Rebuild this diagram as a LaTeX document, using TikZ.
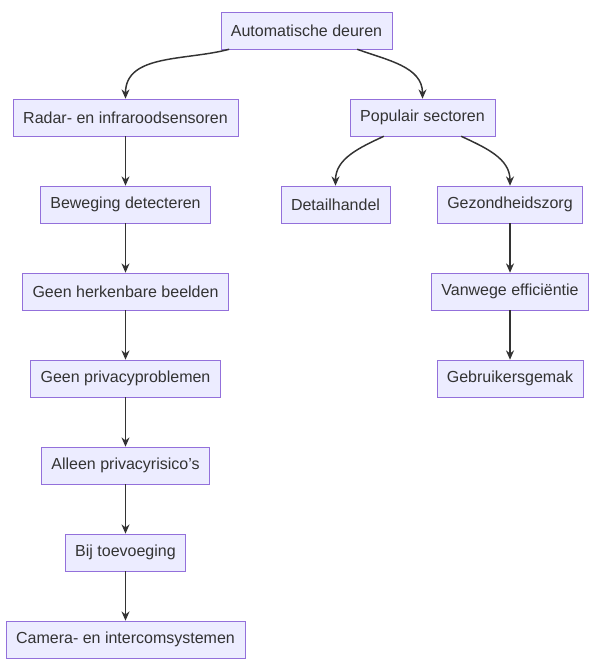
\documentclass[tikz,border=0pt]{standalone}
\usepackage{fontspec}
\setmainfont{Liberation Sans}
\usepackage{xcolor}
\usetikzlibrary{arrows.meta}
\definecolor{boxfill}{HTML}{ECECFF}
\definecolor{boxline}{HTML}{9370DB}
\definecolor{ink}{HTML}{333333}
\tikzset{
    px/.style = {x = 0.75pt, y = -0.75pt},
    box/.style = {draw = boxline, fill = boxfill, text = ink, minimum height = 27.75pt,
        inner xsep = 7.5pt, font = \fontsize{12}{14}\selectfont},
    link/.style = {draw = ink, line width = 1.1pt, -{Stealth[length = 7pt, width = 6pt]}}
}
\begin{document}
\begin{tikzpicture}[px]
        \useasboundingbox (0, 0) rectangle (604, 670);

        \node[box] (auto) at (306.5, 30.5) {Automatische deuren};
        \node[box] (radar) at (125.5, 117.5) {Radar- en infraroodsensoren};
        \node[box] (pop) at (422.5, 117.5) {Populair sectoren};
        \node[box] (bew) at (125.5, 204.5) {Beweging detecteren};
        \node[box] (detail) at (335.5, 204.5) {Detailhandel};
        \node[box] (zorg) at (510, 204.5) {Gezondheidszorg};
        \node[box] (herk) at (125.5, 291.5) {Geen herkenbare beelden};
        \node[box] (eff) at (510, 291.5) {Vanwege efficiëntie};
        \node[box] (priv) at (125.5, 378.5) {Geen privacyproblemen};
        \node[box] (gemak) at (510, 378.5) {Gebruikersgemak};
        \node[box] (risico) at (125.5, 465.5) {Alleen privacyrisico's};
        \node[box] (toev) at (125.5, 552.5) {Bij toevoeging};
        \node[box] (camera) at (125.5, 639.5) {Camera- en intercomsystemen};

        % curved branches
        \draw[link] ([xshift = -58pt] auto.south) to[out = 195, in = 90] (radar.north);
        \draw[link] ([xshift = 38pt] auto.south) to[out = -20, in = 90] (pop.north);
        \draw[link] ([xshift = -29pt] pop.south) to[out = 205, in = 90] (detail.north);
        \draw[link] ([xshift = 29pt] pop.south) to[out = -25, in = 90] (zorg.north);

        % straight chains
        \draw[link] (radar) -- (bew);
        \draw[link] (bew) -- (herk);
        \draw[link] (herk) -- (priv);
        \draw[link] (priv) -- (risico);
        \draw[link] (risico) -- (toev);
        \draw[link] (toev) -- (camera);
        \draw[link] (zorg) -- (eff);
        \draw[link] (eff) -- (gemak);
    \end{tikzpicture}
\end{document}
